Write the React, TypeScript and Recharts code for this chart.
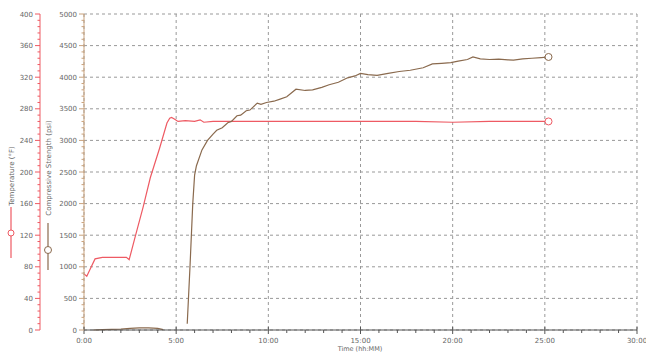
import { LineChart, Line, XAxis, YAxis, CartesianGrid } from "recharts";

// time in minutes
const tempTimes = [0, 0.15, 0.35, 0.6, 1.0, 1.5, 2.0, 2.3, 2.45, 2.8, 3.2, 3.6, 4.1, 4.5, 4.65, 4.75, 4.9, 5.1, 5.5, 6.0, 6.3, 6.5, 7, 8, 10, 12, 15, 18, 20, 22, 25.2];
const tempValues = [71, 68, 78, 90, 92, 92, 92, 92, 89, 120, 155, 193, 230, 262, 268, 269, 267, 264, 265, 264, 266, 263, 264, 264, 264, 264, 264, 264, 263, 264, 264];

const strengthTimes = [0.5, 1.0, 1.5, 2.0, 2.5, 3.0, 3.5, 4.0, 4.3, 5.0, 5.6, 5.75, 5.9, 6.0, 6.1, 6.4, 6.7, 7.0, 7.2, 7.5, 7.8, 8.0, 8.3, 8.5, 8.8, 9.0, 9.4, 9.6, 9.9, 10.3, 10.6, 11.0, 11.5, 12.0, 12.4, 12.9, 13.3, 13.8, 14.3, 14.7, 15.0, 15.4, 15.9, 16.5, 17.1, 17.7, 18.4, 18.9, 19.4, 19.9, 20.3, 20.8, 21.1, 21.5, 22.0, 22.5, 23.0, 23.3, 23.8, 24.3, 24.8, 25.2];
const strengthValues = [0, 5, 10, 15, 25, 35, 35, 25, 5, null, 100, 1000, 2000, 2450, 2600, 2850, 3000, 3100, 3160, 3200, 3280, 3300, 3390, 3400, 3470, 3480, 3590, 3570, 3600, 3620, 3650, 3690, 3810, 3790, 3800, 3840, 3880, 3920, 3990, 4020, 4060, 4040, 4030, 4060, 4090, 4110, 4150, 4210, 4220, 4230, 4255, 4280, 4320, 4290, 4280, 4285, 4275, 4270, 4290, 4300, 4310, 4320];

const timeTicks = [0, 5, 10, 15, 20, 25, 30];
const timeLabels = ["0:00", "5:00", "10:00", "15:00", "20:00", "25:00", "30:00"];
const tempTicks = [0, 40, 80, 120, 160, 200, 240, 280, 320, 360, 400];
const strengthTicks = [0, 500, 1000, 1500, 2000, 2500, 3000, 3500, 4000, 4500, 5000];

const RED = "#ee5a63";
const BROWN = "#8a6a4e";
const TAN = "#c9a27c";
const FONT = "DejaVu Sans";

const tempData = tempTimes.map((t, i) => ({ t, temp: tempValues[i] }));
const strengthData = strengthTimes.map((t, i) => ({ t, psi: strengthValues[i] }));

function withMinors(majors: number[], n: number) {
  const out: number[] = [];
  for (let i = 0; i < majors.length - 1; i++) {
    const step = (majors[i + 1] - majors[i]) / n;
    for (let k = 0; k < n; k++) out.push(Math.round((majors[i] + step * k) * 1000) / 1000);
  }
  out.push(majors[majors.length - 1]);
  return out;
}

const makeYTick = (majors: number[], color: string) => (props: any) => {
  const { x, y, payload } = props;
  const major = majors.includes(payload.value);
  return (
    <g>
      <line x1={x} x2={x - (major ? 5 : 2.5)} y1={y} y2={y} stroke={color} strokeWidth={1} />
      {major && (
        <text x={x - 7} y={y} dy={2.5} textAnchor="end" fontSize={7} fontFamily={FONT} fill="#666">
          {payload.value}
        </text>
      )}
    </g>
  );
};

const XTick = (props: any) => {
  const { x, y, payload } = props;
  const idx = timeTicks.indexOf(payload.value);
  const major = idx >= 0;
  return (
    <g>
      <line x1={x} x2={x} y1={major ? y - 3 : y} y2={y + (major ? 4 : 3)} stroke="#555" strokeWidth={1} />
      {major && (
        <text x={x} y={y + 13} textAnchor="middle" fontSize={7} fontFamily={FONT} fill="#666">
          {timeLabels[idx]}
        </text>
      )}
    </g>
  );
};

const endDot = (len: number, color: string) => (p: any) =>
  p.index === len - 1 ? (
    <circle key={`d${p.index}`} cx={p.cx} cy={p.cy} r={3.5} fill="#fff" stroke={color} strokeWidth={1} />
  ) : (
    <g key={`d${p.index}`} />
  );

export default function App() {
  return (
    <div style={{ position: "absolute", left: 0, top: 0, width: 646, height: 353, background: "#fff" }}>
      <LineChart width={646} height={353} margin={{ top: 14, right: 9, bottom: 0, left: 0 }}>
        <CartesianGrid
          yAxisId="psi"
          stroke="#999"
          strokeDasharray="3 3"
          horizontalValues={strengthTicks}
          verticalValues={timeTicks}
        />
        <XAxis
          dataKey="t"
          type="number"
          domain={[0, 30]}
          ticks={withMinors(timeTicks, 5)}
          interval={0}
          tick={XTick}
          tickLine={false}
          tickSize={0}
          tickMargin={0}
          height={23}
          axisLine={{ stroke: "#555" }}
          allowDuplicatedCategory={false}
        />
        <YAxis
          yAxisId="psi"
          orientation="left"
          width={44}
          domain={[0, 5000]}
          ticks={withMinors(strengthTicks, 5)}
          interval={0}
          tick={makeYTick(strengthTicks, TAN)}
          tickLine={false}
          tickSize={0}
          tickMargin={0}
          axisLine={{ stroke: TAN }}
        />
        <YAxis
          yAxisId="temp"
          orientation="left"
          width={40}
          domain={[0, 400]}
          ticks={withMinors(tempTicks, 5)}
          interval={0}
          tick={makeYTick(tempTicks, RED)}
          tickLine={false}
          tickSize={0}
          tickMargin={0}
          axisLine={{ stroke: RED }}
        />
        <Line
          yAxisId="temp"
          data={tempData}
          dataKey="temp"
          type="linear"
          stroke={RED}
          strokeWidth={1.2}
          dot={endDot(tempData.length, RED)}
          activeDot={false}
          isAnimationActive={false}
        />
        <Line
          yAxisId="psi"
          data={strengthData}
          dataKey="psi"
          type="linear"
          stroke={BROWN}
          strokeWidth={1.2}
          dot={endDot(strengthData.length, BROWN)}
          activeDot={false}
          isAnimationActive={false}
        />
      </LineChart>
      <svg width={646} height={353} style={{ position: "absolute", left: 0, top: 0, pointerEvents: "none" }}>
        <text transform="translate(14,176) rotate(-90)" textAnchor="middle" fontSize={7} fontFamily={FONT} fill="#666">
          Temperature (°F)
        </text>
        <line x1={11} x2={11} y1={207} y2={258} stroke={RED} strokeWidth={1.2} />
        <circle cx={11} cy={233} r={3} fill="#fff" stroke={RED} />
        <text transform="translate(51,168) rotate(-90)" textAnchor="middle" fontSize={7} fontFamily={FONT} fill="#666">
          Compressive Strength (psi)
        </text>
        <line x1={48} x2={48} y1={223} y2={270} stroke={BROWN} strokeWidth={1.2} />
        <circle cx={48} cy={250} r={3.5} fill="#fff" stroke={BROWN} />
        <text x={360} y={351} textAnchor="middle" fontSize={6.5} fontFamily={FONT} fill="#666">
          Time (hh:MM)
        </text>
      </svg>
    </div>
  );
}
